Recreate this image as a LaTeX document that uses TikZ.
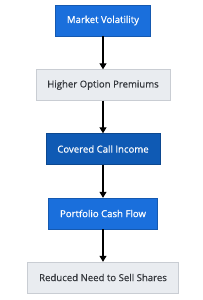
\documentclass[tikz,border=0pt]{standalone}
\usepackage{fontspec}
\setmainfont{Open Sans}
\newfontfamily\flowfont{Open Sans}[FakeBold=0.6]
\usepackage{xcolor}
\definecolor{flowblue}{HTML}{1A6FDC}
\definecolor{flowdark}{HTML}{0F5AB4}
\definecolor{flowgray}{HTML}{E9ECF0}
\definecolor{flowedge}{HTML}{C9CDD3}
\definecolor{flowtext}{HTML}{33363B}
\usetikzlibrary{arrows.meta,positioning,shadows}

\begin{document}
\begin{tikzpicture}[x=1pt,y=1pt,
  stepbox/.style={draw,font=\flowfont\fontsize{9.6}{11}\selectfont,inner xsep=11.5pt,
    minimum height=31pt,align=center,
    drop shadow={shadow xshift=0.8pt,shadow yshift=-0.8pt,fill=black,opacity=0.12}},
  bluebox/.style={stepbox,fill=flowblue,draw=flowblue!80!black,text=white},
  darkbox/.style={stepbox,fill=flowdark,draw=flowdark!80!black,text=white},
  graybox/.style={stepbox,fill=flowgray,draw=flowedge,text=flowtext},
  arr/.style={-{Triangle[length=6pt,width=7pt]},line width=1.1pt,black}
]
  \useasboundingbox (0,0) rectangle (202,300);

  % Chain of effects
  \node[bluebox] (vol) at (103,279.5) {Market Volatility};
  \node[graybox] (prem) at (103,215) {Higher Option Premiums};
  \node[darkbox] (income) at (103,151) {Covered Call Income};
  \node[bluebox] (cash) at (103,86.5) {Portfolio Cash Flow};
  \node[graybox] (sell) at (103,22.5) {Reduced Need to Sell Shares};

  % Arrows
  \draw[arr] (vol) -- (prem);
  \draw[arr] (prem) -- (income);
  \draw[arr] (income) -- (cash);
  \draw[arr] (cash) -- (sell);
\end{tikzpicture}
\end{document}
